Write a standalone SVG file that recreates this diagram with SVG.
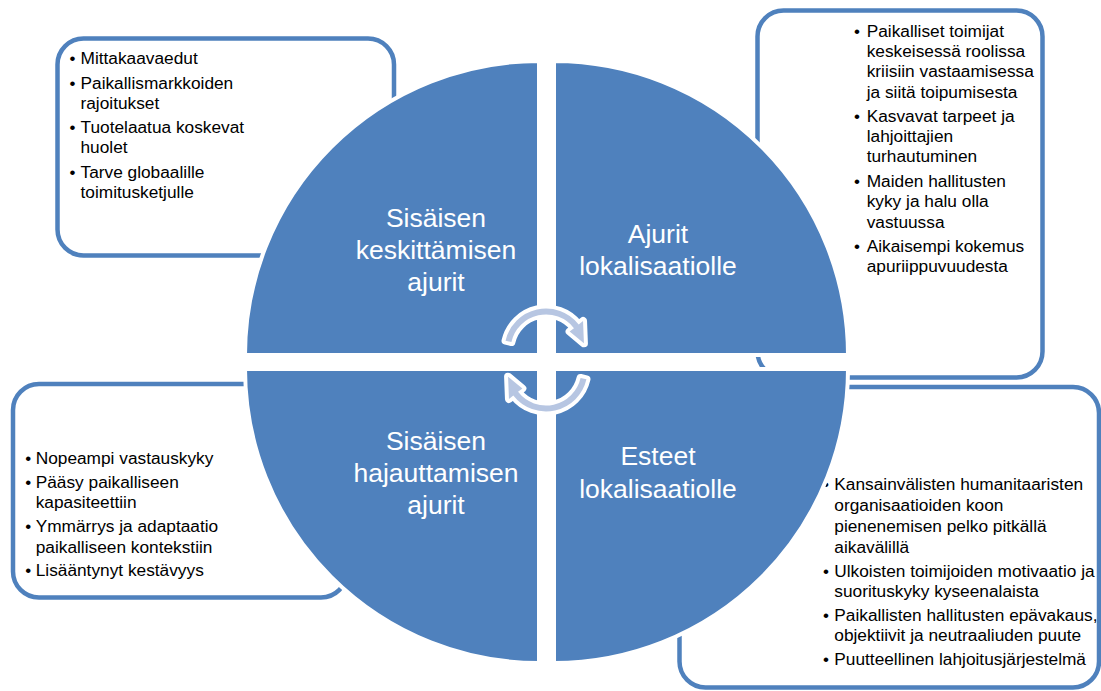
<svg xmlns="http://www.w3.org/2000/svg" width="1101" height="691" viewBox="0 0 1101 691">
<style>
.box{fill:#fff;stroke:#4f81bd;stroke-width:4.5}
.q{fill:#4f81bd;stroke:#fff;stroke-width:4}
.t{font-family:"Liberation Sans",Arial,sans-serif;font-size:17.3px;fill:#000}
.b{font-family:"Liberation Sans",Arial,sans-serif;font-size:17px;fill:#000;text-anchor:middle}
.lbl{font-family:"Liberation Sans",Arial,sans-serif;font-size:26.5px;fill:#fff;text-anchor:middle}
.arr{fill:#b7c6e2;stroke:#fff;stroke-width:8;paint-order:stroke;stroke-linejoin:round}
</style>
<rect width="1101" height="691" fill="#fff"/>

<g id="box-tl">
<rect class="box" x="57.5" y="38.5" width="336.5" height="217" rx="26"/>
<text class="b"><tspan x="72.5" y="64">•</tspan><tspan x="72.5" y="89">•</tspan><tspan x="72.5" y="133">•</tspan><tspan x="72.5" y="177.5">•</tspan></text>
<text class="t"><tspan x="80.5" y="64">Mittakaavaedut</tspan><tspan x="80.5" y="89">Paikallismarkkoiden</tspan><tspan x="80.5" y="109">rajoitukset</tspan><tspan x="80.5" y="133">Tuotelaatua koskevat</tspan><tspan x="80.5" y="153">huolet</tspan><tspan x="80.5" y="177.5">Tarve globaalille</tspan><tspan x="80.5" y="197.5">toimitusketjulle</tspan></text>
</g>

<g id="box-tr">
<rect class="box" x="757.5" y="10.5" width="285" height="367" rx="26"/>
<text class="b"><tspan x="857" y="37.3">•</tspan><tspan x="857" y="121.7">•</tspan><tspan x="857" y="187.3">•</tspan><tspan x="857" y="251.7">•</tspan></text>
<text class="t"><tspan x="866.7" y="37.3">Paikalliset toimijat</tspan><tspan x="866.7" y="57.3">keskeisessä roolissa</tspan><tspan x="866.7" y="77.3">kriisiin vastaamisessa</tspan><tspan x="866.7" y="97.7">ja siitä toipumisesta</tspan><tspan x="866.7" y="121.7">Kasvavat tarpeet ja</tspan><tspan x="866.7" y="141.7">lahjoittajien</tspan><tspan x="866.7" y="161.7">turhautuminen</tspan><tspan x="866.7" y="187.3">Maiden hallitusten</tspan><tspan x="866.7" y="207.3">kyky ja halu olla</tspan><tspan x="866.7" y="227.7">vastuussa</tspan><tspan x="866.7" y="251.7">Aikaisempi kokemus</tspan><tspan x="866.7" y="271.7">apuriippuvuudesta</tspan></text>
</g>

<g id="box-bl">
<rect class="box" x="13" y="384" width="334" height="213.5" rx="26"/>
<text class="b"><tspan x="28.3" y="464.3">•</tspan><tspan x="28.3" y="488.3">•</tspan><tspan x="28.3" y="532.3">•</tspan><tspan x="28.3" y="576">•</tspan></text>
<text class="t"><tspan x="35.7" y="464.3">Nopeampi vastauskyky</tspan><tspan x="35.7" y="488.3">Pääsy paikalliseen</tspan><tspan x="35.7" y="508.3">kapasiteettiin</tspan><tspan x="35.7" y="532.3">Ymmärrys ja adaptaatio</tspan><tspan x="35.7" y="552.7">paikalliseen kontekstiin</tspan><tspan x="35.7" y="576">Lisääntynyt kestävyys</tspan></text>
</g>

<g id="box-br">
<rect class="box" x="679.5" y="387" width="419.5" height="300.5" rx="26"/>
<text class="b"><tspan x="826" y="490">•</tspan><tspan x="826" y="576.7">•</tspan><tspan x="826" y="620.7">•</tspan><tspan x="826" y="665">•</tspan></text>
<text class="t"><tspan x="834.3" y="490">Kansainvälisten humanitaaristen</tspan><tspan x="834.3" y="510.7">organisaatioiden koon</tspan><tspan x="834.3" y="531.7">pienenemisen pelko pitkällä</tspan><tspan x="834.3" y="552.7">aikavälillä</tspan><tspan x="834.3" y="576.7">Ulkoisten toimijoiden motivaatio ja</tspan><tspan x="834.3" y="596.7">suorituskyky kyseenalaista</tspan><tspan x="834.3" y="620.7">Paikallisten hallitusten epävakaus,</tspan><tspan x="834.3" y="641">objektiivit ja neutraaliuden puute</tspan><tspan x="834.3" y="665">Puutteellinen lahjoitusjärjestelmä</tspan></text>
</g>

<g id="quadrant-tl">
<path class="q" d="M539 355 L245 355 A294 294 0 0 1 539 61 Z"/>
<text class="lbl"><tspan x="436" y="227">Sisäisen</tspan><tspan x="436" y="259">keskittämisen</tspan><tspan x="436" y="291">ajurit</tspan></text>
</g>
<g id="quadrant-tr">
<path class="q" d="M554 355 L554 61 A294 294 0 0 1 848 355 Z"/>
<text class="lbl"><tspan x="658" y="243.3">Ajurit</tspan><tspan x="658" y="275">lokalisaatiolle</tspan></text>
</g>
<g id="quadrant-bl">
<path class="q" d="M539 369 L539 663 A294 294 0 0 1 245 369 Z"/>
<text class="lbl"><tspan x="436" y="450">Sisäisen</tspan><tspan x="436" y="482">hajauttamisen</tspan><tspan x="436" y="513.5">ajurit</tspan></text>
</g>
<g id="quadrant-br">
<path class="q" d="M554 369 L848 369 A294 294 0 0 1 554 663 Z"/>
<text class="lbl"><tspan x="658" y="465">Esteet</tspan><tspan x="658" y="498">lokalisaatiolle</tspan></text>
</g>

<g id="connectors">
<path id="arrow-top" class="arr" d="M505.56 340.66 A41.5 41.5 0 0 1 578.7 324.45 L583.04 321.06 L583.92 343.31 L569.64 331.53 L573.97 328.14 A35.5 35.5 0 0 0 511.41 342.01 Z"/>
<path id="arrow-bottom" class="arr" transform="rotate(180 546 360)" d="M505.56 340.66 A41.5 41.5 0 0 1 578.7 324.45 L583.04 321.06 L583.92 343.31 L569.64 331.53 L573.97 328.14 A35.5 35.5 0 0 0 511.41 342.01 Z"/>
</g>
</svg>
